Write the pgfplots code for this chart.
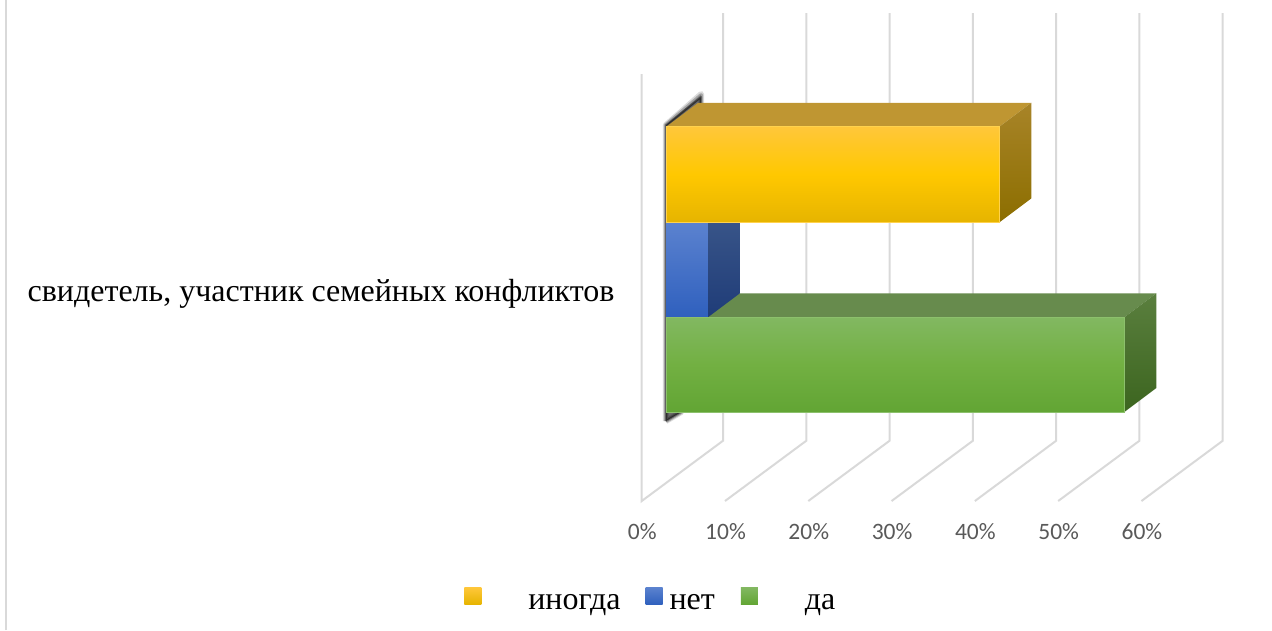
\documentclass[border=0pt]{standalone}
\usepackage{fontspec}
\setmainfont{Liberation Serif}
\newfontfamily\tickfont{Carlito}
\usepackage{pgfplots}
\pgfplotsset{compat=1.18}
\definecolor{gridc}{HTML}{D9D9D9}
\definecolor{tickc}{HTML}{595959}
\definecolor{ffc73a}{HTML}{FFC73A}\definecolor{ffc800}{HTML}{FFC800}\definecolor{e6b400}{HTML}{E6B400}\definecolor{ffd24d}{HTML}{FFD24D}
\definecolor{5b82cf}{HTML}{5B82CF}\definecolor{2f60be}{HTML}{2F60BE}
\definecolor{82b861}{HTML}{82B861}\definecolor{72b042}{HTML}{72B042}\definecolor{62a534}{HTML}{62A534}\definecolor{8cc06c}{HTML}{8CC06C}
\definecolor{ytop}{HTML}{BF9632}\definecolor{yside1}{HTML}{A88428}\definecolor{yside2}{HTML}{8C6E00}
\definecolor{bside1}{HTML}{3E5A8C}\definecolor{bside2}{HTML}{1F3C78}
\definecolor{gtop}{HTML}{678B4D}\definecolor{gside1}{HTML}{5A7F3E}\definecolor{gside2}{HTML}{3C651F}
\tikzset{
  gl/.style={draw=gridc,line width=2pt},
  yfront/.style={top color=ffc73a,bottom color=e6b400,middle color=ffc800,draw=ffd24d,line width=.6pt},
  bfront/.style={top color=5b82cf,bottom color=2f60be,draw=none},
  gfront/.style={top color=82b861,bottom color=62a534,middle color=72b042,draw=8cc06c,line width=.6pt},
  shd/.style={fill=black,draw=black,line join=round},
}
\newcommand\catname{свидетель, участник семейных конфликтов}
\begin{document}
\begin{tikzpicture}
\begin{axis}[
  scale only axis, width=1272pt, height=630pt,
  xmin=-79.976, xmax=72.725, ymin=0, ymax=630,
  axis line style={draw=none},
  major tick length=0pt,
  xtick={-2.88,7.12,17.12,27.12,37.12,47.12,57.12},
  xticklabels={0\%,10\%,20\%,30\%,40\%,50\%,60\%},
  xticklabel style={anchor=center,yshift=98.5pt,font=\tickfont\fontsize{23.5}{26}\selectfont,text=tickc},
  ytick={336},
  yticklabels={\catname},
  yticklabel style={anchor=west,xshift=24pt,font=\fontsize{32}{35}\selectfont,text=black},
  legend columns=-1,
  legend style={draw=none,fill=none,at={(axis cs:-24.26,31)},anchor=west,inner sep=0pt,
    nodes={inner sep=0pt,font=\fontsize{32}{35}\selectfont},
    column sep=0pt},
]
% legend images
\addlegendimage{legend image code/.code={\shade[draw=none,top color=ffc73a,bottom color=e6b400] (0pt,-2pt) rectangle (17pt,15pt);}}
\addlegendentry{\hspace*{47pt}иногда\hspace*{25pt}}
\addlegendimage{legend image code/.code={\shade[draw=none,top color=5b82cf,bottom color=2f60be] (0pt,-2pt) rectangle (17pt,15pt);}}
\addlegendentry{\hspace*{7pt}нет\hspace*{26pt}}
\addlegendimage{legend image code/.code={\shade[draw=none,top color=82b861,bottom color=62a534] (0pt,-2pt) rectangle (17pt,15pt);}}
\addlegendentry{\hspace*{47pt}да}
% page edge
\addplot[gl] coordinates {(-79.256,0) (-79.256,630)};
% walls and grid lines
\addplot[gl] coordinates {(-2.94,556) (-2.94,129) (6.82,189.3) (6.82,617)};
\addplot[gl] coordinates {(7.06,129) (16.82,189.3) (16.82,617)};
\addplot[gl] coordinates {(17.06,129) (26.82,189.3) (26.82,617)};
\addplot[gl] coordinates {(27.06,129) (36.82,189.3) (36.82,617)};
\addplot[gl] coordinates {(37.06,129) (46.82,189.3) (46.82,617)};
\addplot[gl] coordinates {(47.06,129) (56.82,189.3) (56.82,617)};
\addplot[gl] coordinates {(57.06,129) (66.82,189.3) (66.82,617)};
% shadow behind the bars
\addplot[shd,line width=6pt,opacity=.14] coordinates {(-0.04,209) (-0.04,505) (4.2,536) (4.2,526) (1.8,218) (-0.04,209)};
\addplot[shd,line width=4pt,opacity=.24] coordinates {(-0.04,209) (-0.04,505) (4.2,535) (4.2,526) (1.8,218) (-0.04,209)};
\addplot[shd,line width=2pt,opacity=.35] coordinates {(-0.04,209) (-0.04,505) (4.2,533) (4.2,526) (1.8,218) (-0.04,209)};
% green bar, back faces (55)
\addplot[fill=gtop,draw=none] coordinates {(0,312.7) (3.84,336.7) (58.84,336.7) (55,312.7) (0,312.7)};
\addplot[top color=gside1,bottom color=gside2,draw=none] coordinates {(55,312.7) (58.84,336.7) (58.84,242) (55,218) (55,312.7)};
% blue bar (5)
\addplot[top color=bside1,bottom color=bside2,draw=none] coordinates {(5,407.7) (8.84,431.7) (8.84,336.7) (5,312.7) (5,407.7)};
\addplot[bfront] coordinates {(0,407.7) (5,407.7) (5,312.7) (0,312.7) (0,407.7)};
% green bar, front face
\addplot[gfront] coordinates {(0,312.7) (55,312.7) (55,218) (0,218) (0,312.7)};
% yellow bar (40)
\addplot[fill=ytop,draw=none] coordinates {(0,503.3) (3.84,527.3) (43.84,527.3) (40,503.3) (0,503.3)};
\addplot[top color=yside1,bottom color=yside2,draw=none] coordinates {(40,503.3) (43.84,527.3) (43.84,431.7) (40,407.7) (40,503.3)};
\addplot[yfront] coordinates {(0,503.3) (40,503.3) (40,407.7) (0,407.7) (0,503.3)};
\end{axis}
\end{tikzpicture}
\end{document}
